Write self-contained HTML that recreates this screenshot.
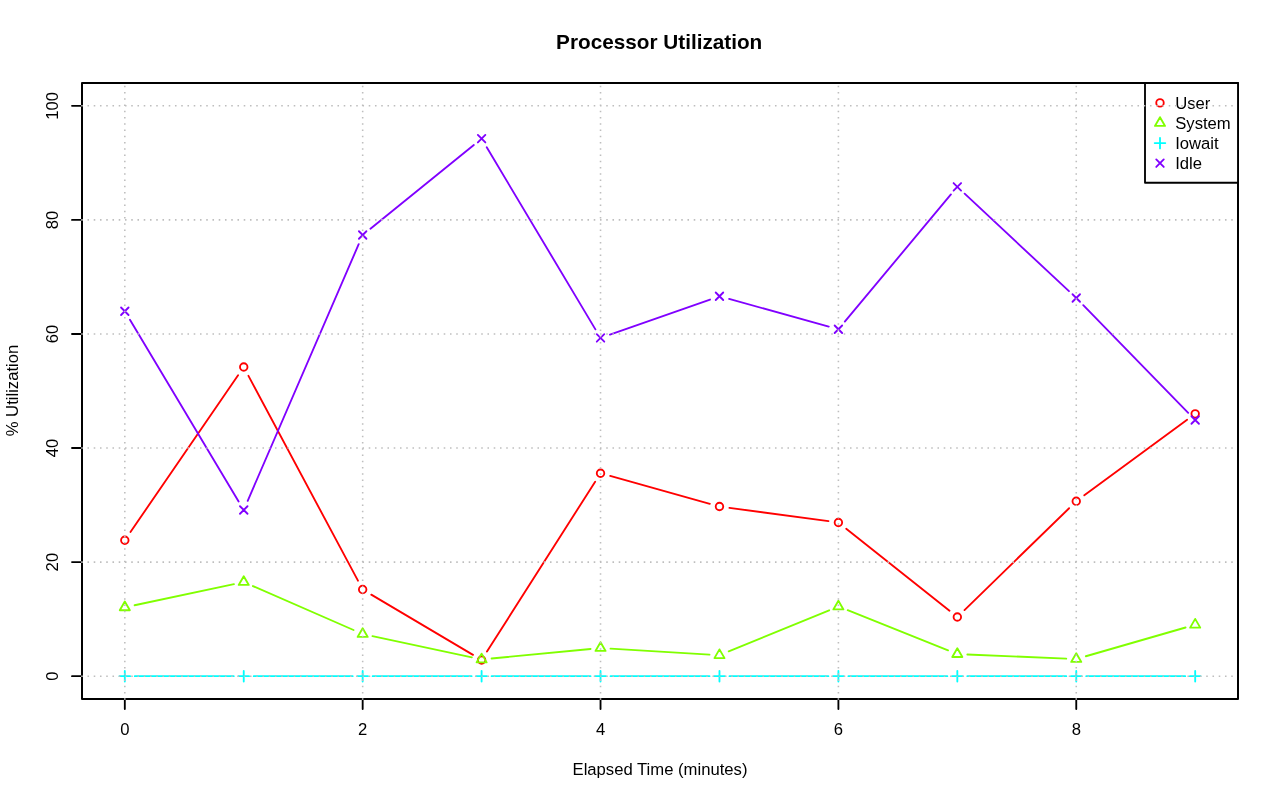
<!DOCTYPE html>
<html lang="en"><head><meta charset="utf-8"><title>Processor Utilization</title>
<style>html,body{margin:0;padding:0;background:#fff;overflow:hidden}svg{display:block}text{font-family:"Liberation Sans",Arial,Helvetica,sans-serif;font-size:16.667px;fill:#000}.t{font-weight:bold;font-size:21px}.g{fill:none;stroke-width:1.85;stroke-linecap:round;stroke-linejoin:round}</style></head><body>
<svg width="1280" height="801" viewBox="0 0 1280 801">
<rect width="1280" height="801" fill="#fff"/>
<g class="g">
<path d="M130.47 532.00L238.08 375.27M248.46 375.84L357.96 580.68M371.28 594.60L473.00 654.89M486.98 651.56L595.16 481.68M610.17 475.94L709.83 503.82M729.38 507.85L828.48 521.17M846.22 528.72L949.50 610.79M964.49 610.04L1069.09 508.24M1084.31 495.34L1187.13 419.75" stroke="#FF0000"/>
<circle cx="124.81" cy="540.25" r="3.75" stroke="#FF0000"/>
<circle cx="243.74" cy="367.02" r="3.75" stroke="#FF0000"/>
<circle cx="362.67" cy="589.50" r="3.75" stroke="#FF0000"/>
<circle cx="481.60" cy="659.99" r="3.75" stroke="#FF0000"/>
<circle cx="600.53" cy="473.24" r="3.75" stroke="#FF0000"/>
<circle cx="719.47" cy="506.52" r="3.75" stroke="#FF0000"/>
<circle cx="838.40" cy="522.50" r="3.75" stroke="#FF0000"/>
<circle cx="957.33" cy="617.01" r="3.75" stroke="#FF0000"/>
<circle cx="1076.26" cy="501.27" r="3.75" stroke="#FF0000"/>
<circle cx="1195.19" cy="413.83" r="3.75" stroke="#FF0000"/>
<path d="M134.60 605.23L233.96 584.11M252.91 586.03L353.51 630.02M372.45 636.11L471.83 657.36M491.56 658.49L590.58 648.96M610.52 648.61L709.48 654.59M728.72 651.41L829.14 610.30M847.68 610.23L948.04 650.40M967.32 654.52L1066.26 658.61M1085.86 656.25L1185.58 627.49" stroke="#80FF00"/>
<path d="M124.81 601.48L129.87 610.23L119.76 610.23Z" stroke="#80FF00"/>
<path d="M243.74 576.19L248.80 584.94L238.69 584.94Z" stroke="#80FF00"/>
<path d="M362.67 628.19L367.73 636.94L357.62 636.94Z" stroke="#80FF00"/>
<path d="M481.60 653.62L486.66 662.36L476.55 662.36Z" stroke="#80FF00"/>
<path d="M600.53 642.17L605.59 650.92L595.48 650.92Z" stroke="#80FF00"/>
<path d="M719.47 649.36L724.52 658.11L714.41 658.11Z" stroke="#80FF00"/>
<path d="M838.40 600.68L843.45 609.43L833.34 609.43Z" stroke="#80FF00"/>
<path d="M957.33 648.28L962.38 657.03L952.27 657.03Z" stroke="#80FF00"/>
<path d="M1076.26 653.19L1081.31 661.94L1071.20 661.94Z" stroke="#80FF00"/>
<path d="M1195.19 618.89L1200.24 627.63L1190.13 627.63Z" stroke="#80FF00"/>
<path d="M134.81 676.19L233.74 676.19M253.74 676.19L352.67 676.19M372.67 676.19L471.60 676.19M491.60 676.19L590.53 676.19M610.53 676.19L709.47 676.19M729.47 676.19L828.40 676.19M848.40 676.19L947.33 676.19M967.33 676.19L1066.26 676.19M1086.26 676.19L1185.19 676.19" stroke="#00FFFF"/>
<path d="M119.51 676.19H130.12M124.81 670.88V681.49" stroke="#00FFFF"/>
<path d="M238.44 676.19H249.05M243.74 670.88V681.49" stroke="#00FFFF"/>
<path d="M357.37 676.19H367.98M362.67 670.88V681.49" stroke="#00FFFF"/>
<path d="M476.30 676.19H486.91M481.60 670.88V681.49" stroke="#00FFFF"/>
<path d="M595.23 676.19H605.84M600.53 670.88V681.49" stroke="#00FFFF"/>
<path d="M714.16 676.19H724.77M719.47 670.88V681.49" stroke="#00FFFF"/>
<path d="M833.09 676.19H843.70M838.40 670.88V681.49" stroke="#00FFFF"/>
<path d="M952.02 676.19H962.63M957.33 670.88V681.49" stroke="#00FFFF"/>
<path d="M1070.95 676.19H1081.56M1076.26 670.88V681.49" stroke="#00FFFF"/>
<path d="M1189.88 676.19H1200.49M1195.19 670.88V681.49" stroke="#00FFFF"/>
<path d="M129.95 319.84L238.61 501.42M247.71 500.82L358.71 244.19M370.45 228.72L473.83 145.02M486.73 147.31L595.41 329.39M609.97 334.66L710.03 299.56M729.10 298.92L828.76 326.57M844.80 321.56L950.92 194.46M964.63 193.61L1068.95 291.19M1083.24 305.18L1188.20 412.83" stroke="#8000FF"/>
<path d="M121.06 307.51L128.56 315.01M121.06 315.01L128.56 307.51" stroke="#8000FF"/>
<path d="M239.99 506.25L247.49 513.75M239.99 513.75L247.49 506.25" stroke="#8000FF"/>
<path d="M358.92 231.26L366.42 238.76M358.92 238.76L366.42 231.26" stroke="#8000FF"/>
<path d="M477.85 134.97L485.35 142.47M477.85 142.47L485.35 134.97" stroke="#8000FF"/>
<path d="M596.78 334.22L604.28 341.72M596.78 341.72L604.28 334.22" stroke="#8000FF"/>
<path d="M715.72 292.50L723.22 300.00M715.72 300.00L723.22 292.50" stroke="#8000FF"/>
<path d="M834.65 325.49L842.15 332.99M834.65 332.99L842.15 325.49" stroke="#8000FF"/>
<path d="M953.58 183.03L961.08 190.53M953.58 190.53L961.08 183.03" stroke="#8000FF"/>
<path d="M1072.51 294.27L1080.01 301.77M1072.51 301.77L1080.01 294.27" stroke="#8000FF"/>
<path d="M1191.44 416.24L1198.94 423.74M1191.44 423.74L1198.94 416.24" stroke="#8000FF"/>
<path d="M124.81 699.00H1076.26M124.81 699.00v10M362.67 699.00v10M600.53 699.00v10M838.40 699.00v10M1076.26 699.00v10M82.00 676.19V105.81M82.00 676.19h-10M82.00 562.11h-10M82.00 448.04h-10M82.00 333.96h-10M82.00 219.89h-10M82.00 105.81h-10" stroke="#000"/>
<rect x="82.00" y="83.00" width="1156.00" height="616.00" stroke="#000" stroke-width="2"/>
<rect x="1145.00" y="83.00" width="93.00" height="99.70" stroke="#000" fill="#fff" style="fill:#fff"/>
<circle cx="1160.00" cy="102.90" r="3.75" stroke="#FF0000"/>
<path d="M1160.00 117.17L1165.05 125.92L1154.95 125.92Z" stroke="#80FF00"/>
<path d="M1154.70 143.10H1165.30M1160.00 137.80V148.40" stroke="#00FFFF"/>
<path d="M1156.25 159.45L1163.75 166.95M1156.25 166.95L1163.75 159.45" stroke="#8000FF"/>
</g>
<text x="1175.2" y="109.20">User</text>
<text x="1175.2" y="129.15">System</text>
<text x="1175.2" y="149.15">Iowait</text>
<text x="1175.2" y="169.10">Idle</text>
<g fill="none" stroke="#BEBEBE" stroke-width="1.5625" stroke-dasharray="1.5625 4.6875" stroke-linecap="butt">
<path d="M124.81 699.78V83.00M362.67 699.78V83.00M600.53 699.78V83.00M838.40 699.78V83.00M1076.26 699.78V83.00M81.22 676.19H1235.00M81.22 562.11H1235.00M81.22 448.04H1235.00M81.22 333.96H1235.00M81.22 219.89H1235.00M81.22 105.81H1235.00"/></g>
<text class="t" x="659.2" y="49.2" text-anchor="middle" textLength="206.2" lengthAdjust="spacingAndGlyphs">Processor Utilization</text>
<text x="660" y="774.7" text-anchor="middle">Elapsed Time (minutes)</text>
<text transform="translate(18.2 390.5) rotate(-90)" text-anchor="middle">% Utilization</text>
<text x="124.81" y="735" text-anchor="middle">0</text>
<text x="362.67" y="735" text-anchor="middle">2</text>
<text x="600.53" y="735" text-anchor="middle">4</text>
<text x="838.40" y="735" text-anchor="middle">6</text>
<text x="1076.26" y="735" text-anchor="middle">8</text>
<text transform="translate(57.8 676.19) rotate(-90)" text-anchor="middle">0</text>
<text transform="translate(57.8 562.11) rotate(-90)" text-anchor="middle">20</text>
<text transform="translate(57.8 448.04) rotate(-90)" text-anchor="middle">40</text>
<text transform="translate(57.8 333.96) rotate(-90)" text-anchor="middle">60</text>
<text transform="translate(57.8 219.89) rotate(-90)" text-anchor="middle">80</text>
<text transform="translate(57.8 105.81) rotate(-90)" text-anchor="middle">100</text>
</svg></body></html>
